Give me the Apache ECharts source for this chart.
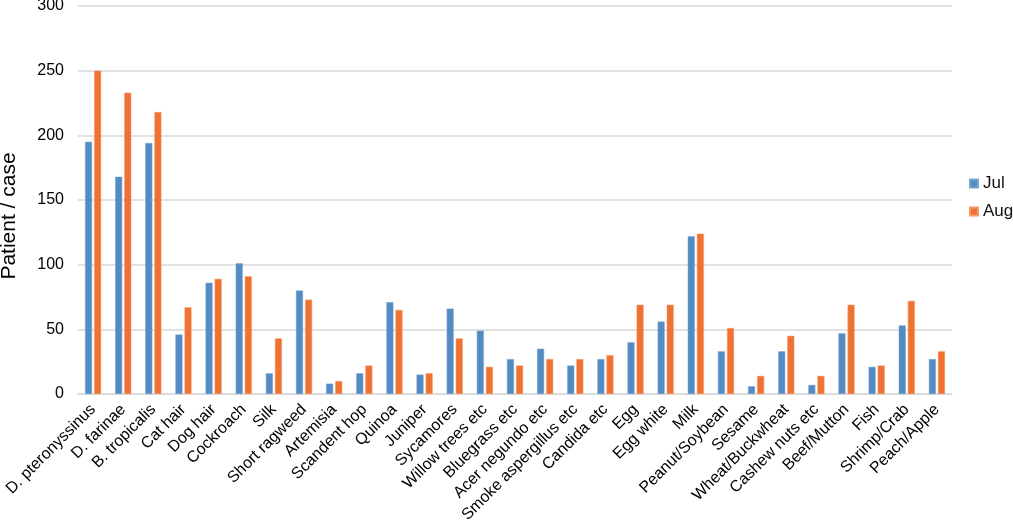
<!DOCTYPE html>
<html>
<head>
<meta charset="utf-8">
<script src="https://cdn.jsdelivr.net/npm/echarts@6/dist/echarts.min.js"></script>
<style>
	html,body{margin:0;padding:0;background:#fff;}
	#chart{width:1013px;height:524px;}
</style>
</head>
<body>
<div id="chart"></div>
<script>
	var categories = ['D. pteronyssinus','D. farinae','B. tropicalis','Cat hair','Dog hair','Cockroach','Silk','Short ragweed','Artemisia','Scandent hop',
		'Quinoa','Juniper','Sycamores','Willow trees etc','Bluegrass etc','Acer negundo etc','Smoke aspergillus etc','Candida etc','Egg','Egg white',
		'Milk','Peanut/Soybean','Sesame','Wheat/Buckwheat','Cashew nuts etc','Beef/Mutton','Fish','Shrimp/Crab','Peach/Apple'];
	var julValues = [195,168,194,46,86,101,16,80,8,16,
		71,15,66,49,27,35,22,27,40,56,
		122,33,6,33,7,47,21,53,27];
	var augValues = [250,233,218,67,89,91,43,73,10,22,
		65,16,43,21,22,27,27,30,69,69,
		124,51,14,45,14,69,22,72,33];
	var yTicks = {min:0,max:300,interval:50};

	var fontName = "'Liberation Sans', Arial, sans-serif";

	_init = function(){
		var myChart = echarts.init(document.getElementById('chart'));
		var option = {
			animation:false,
			textStyle:{fontFamily:fontName},
			legend:{
				orient:'vertical',
				left:969,
				top:175,
				padding:0,
				itemWidth:8,
				itemHeight:8,
				itemGap:11,
				icon:'rect',
				textStyle:{fontSize:17,color:'#111',fontFamily:fontName},
				data:['Jul','Aug']
			},
			grid:{left:78,right:61,top:6,bottom:130,containLabel:false,outerBoundsMode:'none'},
			xAxis:{
				type:'category',
				data:categories,
				axisLine:{lineStyle:{color:'#d9d9d9',width:1.5}},
				axisTick:{show:false},
				axisLabel:{rotate:45,interval:0,fontSize:16,color:'#000',margin:13,fontFamily:fontName}
			},
			yAxis:{
				type:'value',
				min:yTicks.min,
				max:yTicks.max,
				interval:yTicks.interval,
				name:'Patient / case',
				nameLocation:'middle',
				nameGap:58,
				nameTextStyle:{fontSize:21,color:'#000',fontFamily:fontName,padding:[0,32,0,0]},
				axisLine:{show:false},
				axisTick:{show:false},
				axisLabel:{fontSize:16,color:'#000',margin:14,fontFamily:fontName},
				splitLine:{lineStyle:{color:'#d9d9d9',width:1.5}}
			},
			series:[
				{
					name:'Jul',
					type:'bar',
					data:julValues,
					barWidth:7,
					barGap:'30%',
					itemStyle:{color:'#548bc3',borderColor:'#78a4d0',borderWidth:0.5}
				},
				{
					name:'Aug',
					type:'bar',
					data:augValues,
					barWidth:7,
					itemStyle:{color:'#ef7233',borderColor:'#f49a66',borderWidth:0.5}
				}
			]
		};
		myChart.setOption(option);
	};

	_init();
</script>
</body>
</html>
